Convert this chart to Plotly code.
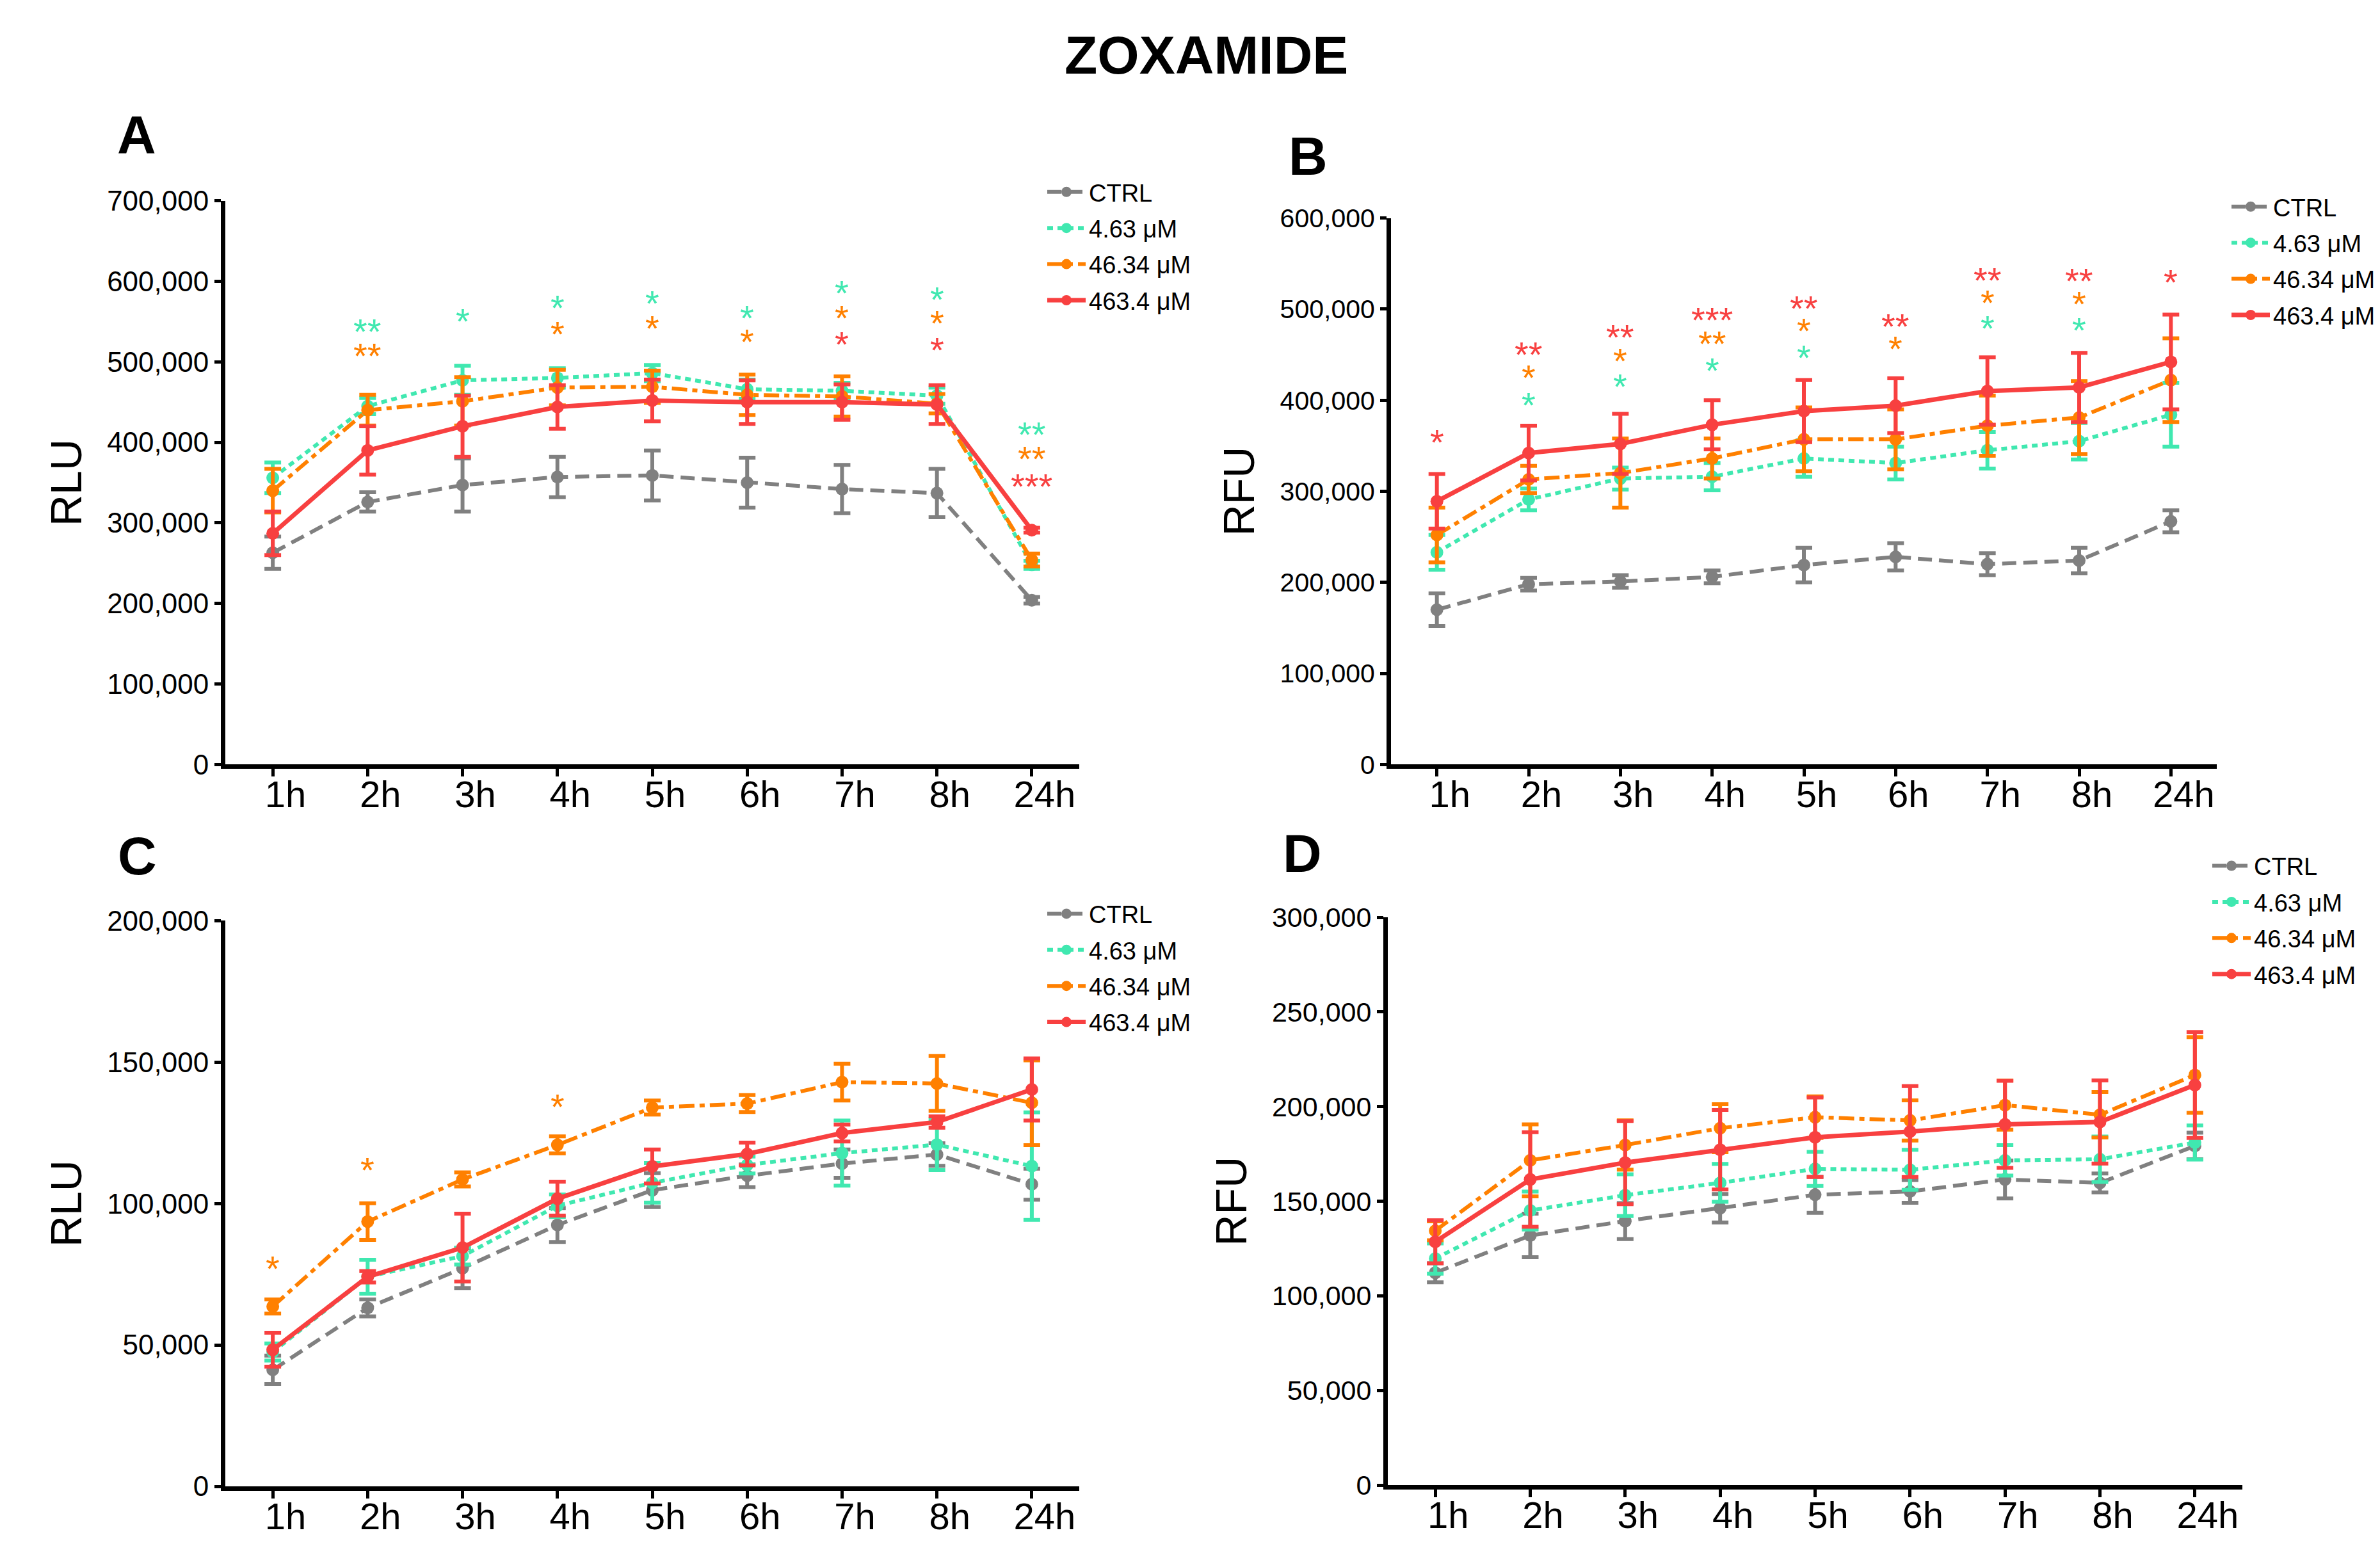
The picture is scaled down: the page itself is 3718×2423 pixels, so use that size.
import plotly.graph_objects as go

# ---------------- data ----------------
hours = ["1h", "2h", "3h", "4h", "5h", "6h", "7h", "8h", "24h"]
series_names = ["CTRL", "4.63 μM", "46.34 μM", "463.4 μM"]

# Panel A (RLU)
a_ctrl = [263000, 326000, 347000, 357000, 359000, 350000, 342000, 337000, 204000]
a_ctrl_sd = [20000, 12000, 33000, 25000, 31000, 31000, 30000, 30000, 4000]
a_low = [356000, 445000, 477000, 480000, 486000, 466000, 464000, 458000, 248000]
a_low_sd = [19000, 10000, 18000, 12000, 10000, 12000, 10000, 10000, 5000]
a_mid = [340000, 440000, 451000, 468000, 469000, 459000, 457000, 448000, 254000]
a_mid_sd = [27000, 19000, 30000, 22000, 20000, 25000, 25000, 12000, 8000]
a_high = [287000, 390000, 420000, 444000, 452000, 450000, 450000, 447000, 291000]
a_high_sd = [27000, 30000, 38000, 27000, 26000, 27000, 22000, 24000, 3000]

# Panel B (RFU)
b_ctrl = [170000, 198000, 201000, 206000, 219000, 228000, 220000, 224000, 267000]
b_ctrl_sd = [18000, 7000, 7000, 7000, 19000, 15000, 12000, 14000, 12000]
b_low = [233000, 291000, 314000, 316000, 336000, 331000, 345000, 355000, 384000]
b_low_sd = [19000, 12000, 12000, 15000, 20000, 18000, 20000, 20000, 35000]
b_mid = [252000, 313000, 320000, 336000, 357000, 357000, 372000, 381000, 422000]
b_mid_sd = [30000, 15000, 38000, 22000, 35000, 33000, 33000, 40000, 46000]
b_high = [289000, 342000, 352000, 373000, 388000, 394000, 410000, 414000, 442000]
b_high_sd = [30000, 30000, 33000, 27000, 34000, 30000, 37000, 38000, 52000]

# Panel C (RLU)
c_ctrl = [41200, 63100, 77100, 92400, 104700, 109800, 114100, 117300, 106800]
c_ctrl_sd = [5000, 3000, 7000, 6000, 6000, 4000, 5000, 4000, 5500]
c_low = [47500, 74100, 81400, 99200, 107300, 113600, 117800, 120800, 113200]
c_low_sd = [3000, 6000, 3000, 4000, 7000, 3000, 11500, 9000, 19000]
c_mid = [63600, 93600, 108500, 120700, 133900, 135300, 142900, 142400, 135600]
c_mid_sd = [2500, 6500, 2500, 3000, 2500, 3000, 6500, 9700, 15000]
c_high = [48300, 74100, 84400, 101700, 113100, 117500, 124900, 128800, 140300]
c_high_sd = [6000, 2000, 12000, 6000, 6000, 4000, 3000, 2000, 11000]

# Panel D (RFU)
d_ctrl = [112200, 131900, 139500, 146300, 153400, 155200, 161500, 159700, 179200]
d_ctrl_sd = [5000, 11500, 9500, 7500, 9500, 6000, 10000, 5000, 7000]
d_low = [119700, 145100, 153200, 159700, 167100, 166600, 171600, 172200, 181000]
d_low_sd = [8000, 10000, 11000, 10000, 9000, 10600, 8000, 12000, 9000]
d_mid = [134400, 171600, 179700, 188600, 194400, 192700, 200800, 195700, 216700]
d_mid_sd = [5000, 19000, 13000, 12700, 11000, 10600, 13000, 12000, 20000]
d_high = [128600, 161500, 170400, 177200, 183800, 186800, 190600, 191900, 211400]
d_high_sd = [11400, 25000, 22000, 21000, 21000, 24000, 23000, 22000, 28000]

# significance marks: hour, text, series index, value level
a_star_hours = ["2h", "2h", "3h", "4h", "4h", "5h", "5h", "6h", "6h", "7h", "7h", "7h", "8h", "8h", "8h", "24h", "24h", "24h"]
a_star_text = ["**", "**", "*", "*", "*", "*", "*", "*", "*", "*", "*", "*", "*", "*", "*", "**", "**", "***"]
a_star_series = [1, 2, 1, 1, 2, 1, 2, 1, 2, 1, 2, 3, 1, 2, 3, 1, 2, 3]
a_star_level = [538000, 508000, 551000, 567000, 535000, 573000, 542000, 555000, 525000, 586000, 555000, 522000, 578000, 548000, 515000, 410000, 380000, 346000]

b_star_hours = ["1h", "2h", "2h", "2h", "3h", "3h", "3h", "4h", "4h", "4h", "5h", "5h", "5h", "6h", "6h", "7h", "7h", "7h", "8h", "8h", "8h", "24h"]
b_star_text = ["*", "**", "*", "*", "**", "*", "*", "***", "**", "*", "**", "*", "*", "**", "*", "**", "*", "*", "**", "*", "*", "*"]
b_star_series = [3, 3, 2, 1, 3, 2, 1, 3, 2, 1, 3, 2, 1, 3, 2, 3, 2, 1, 3, 2, 1, 3]
b_star_level = [354000, 450000, 425000, 395000, 469000, 443000, 415000, 488000, 462000, 433000, 501000, 476000, 447000, 481000, 457000, 532000, 507000, 479000, 531000, 506000, 477000, 530000]

c_star_hours = ["1h", "2h", "4h"]
c_star_text = ["*", "*", "*"]
c_star_series = [2, 2, 2]
c_star_level = [77100, 111900, 134400]

# ---------------- style ----------------
colors = ["#808080", "#40E8B0", "#FF8000", "#F84040"]
dashes = ["22px,11px", "9px,7px", "24px,8px,8px,8px", "solid"]
widths = [6, 6, 6, 7]

FONT = "Liberation Sans, Arial, sans-serif"
W, H = 3718, 2423


def px(x):
    return (x - 5) / W


def py(y):
    return 1 - ((y - 30.1) / 0.981) / H


fig = go.Figure()

panels = [
    dict(key="a", xa="x", ya="y", legend="legend",
         means=[a_ctrl, a_low, a_mid, a_high], sds=[a_ctrl_sd, a_low_sd, a_mid_sd, a_high_sd],
         ymax=700000, dtick=100000, title="RLU", tfs=44,
         xdom=[px(349), px(1683)], ydom=[py(1193), py(311)]),
    dict(key="b", xa="x2", ya="y2", legend="legend2",
         means=[b_ctrl, b_low, b_mid, b_high], sds=[b_ctrl_sd, b_low_sd, b_mid_sd, b_high_sd],
         ymax=600000, dtick=100000, title="RFU", tfs=41,
         xdom=[px(2170), px(3460)], ydom=[py(1193), py(338)]),
    dict(key="c", xa="x3", ya="y3", legend="legend3",
         means=[c_ctrl, c_low, c_mid, c_high], sds=[c_ctrl_sd, c_low_sd, c_mid_sd, c_high_sd],
         ymax=200000, dtick=50000, title="RLU", tfs=44,
         xdom=[px(349), px(1683)], ydom=[py(2322), py(1437)]),
    dict(key="d", xa="x4", ya="y4", legend="legend4",
         means=[d_ctrl, d_low, d_mid, d_high], sds=[d_ctrl_sd, d_low_sd, d_mid_sd, d_high_sd],
         ymax=300000, dtick=50000, title="RFU", tfs=43,
         xdom=[px(2165), px(3500)], ydom=[py(2320), py(1432)]),
]

for p in panels:
    for i in range(4):
        fig.add_trace(go.Scatter(
            x=hours, y=p["means"][i], name=series_names[i],
            mode="lines+markers",
            line=dict(color=colors[i], width=widths[i], dash=dashes[i]),
            marker=dict(color=colors[i], size=20, symbol="circle"),
            error_y=dict(type="data", array=p["sds"][i], visible=True,
                         color=colors[i], thickness=6, width=13),
            xaxis=p["xa"], yaxis=p["ya"], legend=p["legend"],
            legendgroup=p["key"] + str(i),
        ))

layout = dict(
    width=W, height=H, margin=dict(l=0, r=0, t=0, b=0),
    paper_bgcolor="white", plot_bgcolor="white",
    font=dict(family=FONT, color="black"),
    showlegend=True,
)

axis_line = dict(showline=True, linecolor="black", linewidth=7, ticks="outside",
                 tickcolor="black", tickwidth=5, showgrid=False, zeroline=False)

for n, p in enumerate(panels):
    sx = "" if n == 0 else str(n + 1)
    layout["xaxis" + sx] = dict(
        axis_line, type="category", range=[-0.5, 8.5], domain=p["xdom"],
        anchor=p["ya"], ticklen=12, tickfont=dict(size=58, family=FONT),
        ticklabelshift=20, ticklabelstandoff=-22, fixedrange=True,
    )
    layout["yaxis" + sx] = dict(
        axis_line, range=[0, p["ymax"]], domain=p["ydom"], anchor=p["xa"],
        tickmode="linear", tick0=0, dtick=p["dtick"], tickformat=",d",
        ticklen=10, tickfont=dict(size=p["tfs"], family=FONT),
        title=dict(text=p["title"], font=dict(size=68, family=FONT), standoff=20),
        fixedrange=True,
    )

legend_pos = {
    "legend": (px(1628), py(266)),
    "legend2": (px(3478), py(289)),
    "legend3": (px(1628), py(1395)),
    "legend4": (px(3448), py(1320)),
}
for k, (lx, ly) in legend_pos.items():
    layout[k] = dict(x=lx, y=ly, xanchor="left", yanchor="top",
                     bgcolor="rgba(0,0,0,0)", font=dict(size=38, family=FONT),
                     tracegroupgap=4, itemwidth=60)

fig.update_layout(**layout)

# title and panel letters
fig.add_annotation(text="<b>ZOXAMIDE</b>", x=px(1881), y=py(83), xref="paper", yref="paper",
                   showarrow=False, font=dict(size=84, family=FONT), xanchor="center", yanchor="middle")
for letter, lx, ly in [("A", 210, 208), ("B", 2040, 241), ("C", 211, 1336), ("D", 2031, 1332)]:
    fig.add_annotation(text="<b>%s</b>" % letter, x=px(lx), y=py(ly), xref="paper", yref="paper",
                       showarrow=False, font=dict(size=84, family=FONT), xanchor="center", yanchor="middle")

# significance asterisks
for (hrs, txt, ser, lvl, xa, ya) in [
    (a_star_hours, a_star_text, a_star_series, a_star_level, "x", "y"),
    (b_star_hours, b_star_text, b_star_series, b_star_level, "x2", "y2"),
    (c_star_hours, c_star_text, c_star_series, c_star_level, "x3", "y3"),
]:
    for h, t, s, v in zip(hrs, txt, ser, lvl):
        fig.add_annotation(text=t, x=h, y=v, xref=xa, yref=ya, showarrow=False,
                           font=dict(size=56, family=FONT, color=colors[s]),
                           xanchor="center", yanchor="middle")

fig.write_html("out.html")
